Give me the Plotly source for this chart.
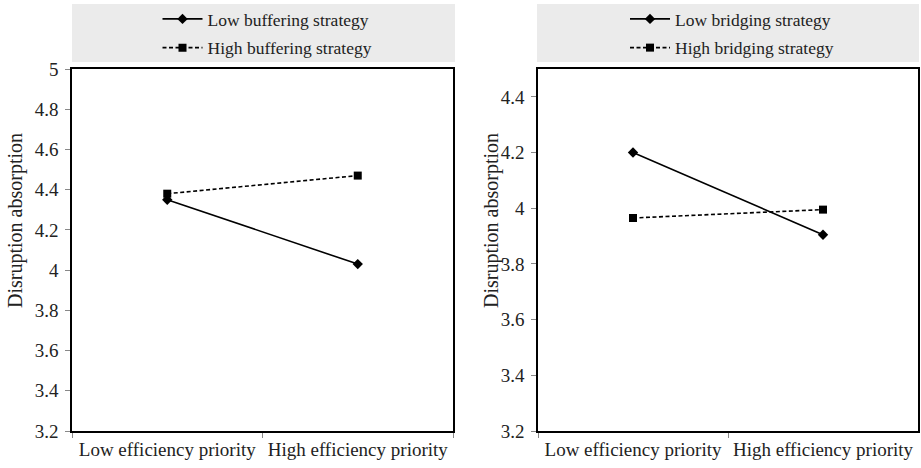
import plotly.graph_objects as go

categories = ["Low efficiency priority", "High efficiency priority"]
low_buffering = [4.35, 4.03]
high_buffering = [4.38, 4.47]
low_bridging = [4.20, 3.905]
high_bridging = [3.965, 3.995]
left_names = ["Low buffering strategy", "High buffering strategy"]
right_names = ["Low bridging strategy", "High bridging strategy"]
y_title = "Disruption absorption"
left_ticks = [3.2, 3.4, 3.6, 3.8, 4, 4.2, 4.4, 4.6, 4.8, 5]
right_ticks = [3.2, 3.4, 3.6, 3.8, 4, 4.2, 4.4]

FONT = "Liberation Serif"
W, H = 921, 468

fig = go.Figure()

def add_pair(low, high, names, xa, ya, leg):
    fig.add_trace(go.Scatter(x=categories, y=low, name=names[0], mode="lines+markers",
                             line=dict(color="black", width=1.6), legendgroup=names[0],
                             marker=dict(symbol="diamond", size=8, color="black"),
                             xaxis=xa, yaxis=ya, legend=leg))
    fig.add_trace(go.Scatter(x=categories, y=high, name=names[1], mode="lines+markers",
                             line=dict(color="black", width=1.6, dash="4px,2.5px"), legendgroup=names[1],
                             marker=dict(symbol="square", size=8, color="black"),
                             xaxis=xa, yaxis=ya, legend=leg))

add_pair(low_buffering, high_buffering, left_names, "x", "y", "legend")
add_pair(low_bridging, high_bridging, right_names, "x2", "y2", "legend2")

L1, R1 = 72 / W, 453 / W
L2, R2 = 538 / W, 918 / W
B, T = (H - 431) / H, (H - 69) / H

axis_common = dict(showline=True, linecolor="black", linewidth=1.6, mirror=True,
                   showgrid=False, zeroline=False, ticks="outside", ticklen=5,
                   tickcolor="#888", automargin=False,
                   tickfont=dict(family=FONT, size=19, color="#222"))

legend_common = dict(xanchor="center", y=1 - 1 / H, yanchor="top", itemwidth=40,
                     bgcolor="rgba(0,0,0,0)", font=dict(family=FONT, size=17.5, color="#222"),
                     tracegroupgap=3, traceorder="grouped", itemclick=False)

fig.update_layout(
    width=W, height=H, margin=dict(l=0, r=0, t=0, b=0),
    paper_bgcolor="white", plot_bgcolor="white",
    font=dict(family=FONT, size=17.5, color="#222"),
    xaxis=dict(domain=[L1, R1], anchor="y", type="category", tickson="boundaries",
               range=[-0.5, 1.5], **axis_common),
    yaxis=dict(domain=[B, T], anchor="x", range=[3.2, 5], tickvals=left_ticks,
               ticklabelstandoff=3, **axis_common),
    xaxis2=dict(domain=[L2, R2], anchor="y2", type="category", tickson="boundaries",
                range=[-0.5, 1.5], **axis_common),
    yaxis2=dict(domain=[B, T], anchor="x2", range=[3.2, 4.5], tickvals=right_ticks,
                ticklabelstandoff=3, **axis_common),
    legend=dict(x=(L1 + R1) / 2 + 5 / W, **legend_common),
    legend2=dict(x=(L2 + R2) / 2 + 4 / W, **legend_common),
    annotations=[
        dict(text=y_title, xref="paper", yref="paper", x=15 / W, y=1 - 221 / H, textangle=-90,
             showarrow=False, xanchor="center", yanchor="middle", font=dict(family=FONT, size=20, color="#222")),
        dict(text=y_title, xref="paper", yref="paper", x=491 / W, y=1 - 221 / H, textangle=-90,
             showarrow=False, xanchor="center", yanchor="middle", font=dict(family=FONT, size=20, color="#222")),
    ],
    shapes=[
        dict(type="rect", xref="paper", yref="paper", x0=L1, x1=455 / W, y0=1 - 62 / H, y1=1 - 4 / H,
             fillcolor="#ebebeb", line=dict(width=0), layer="below"),
        dict(type="rect", xref="paper", yref="paper", x0=537 / W, x1=919 / W, y0=1 - 62 / H, y1=1 - 4 / H,
             fillcolor="#ebebeb", line=dict(width=0), layer="below"),
    ],
    showlegend=True,
)

fig.write_html("out.html", config={"displayModeBar": False},
               post_script="document.body.style.margin='0';")
